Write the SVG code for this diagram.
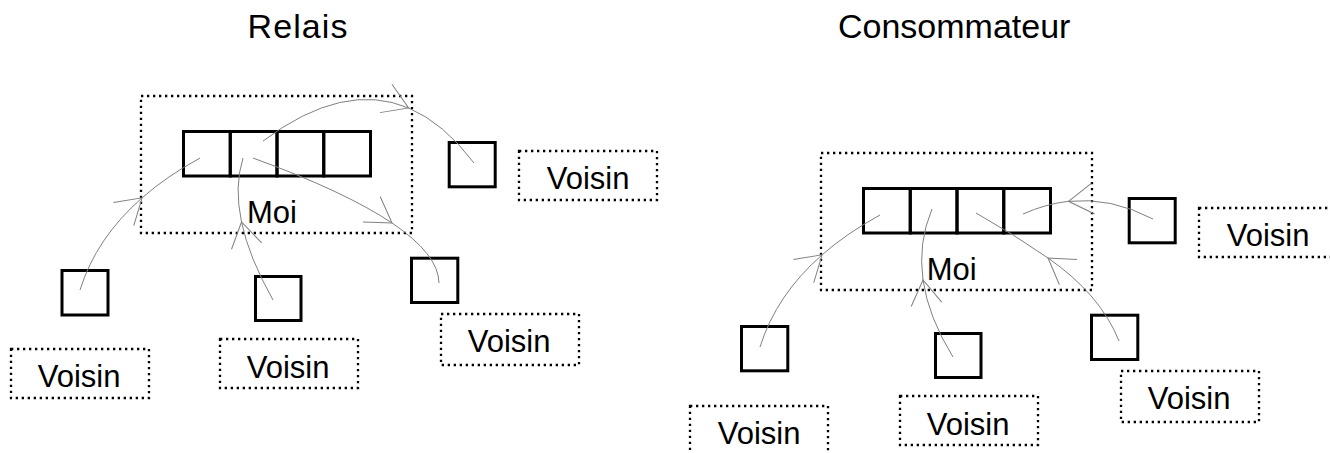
<svg xmlns="http://www.w3.org/2000/svg" width="1330" height="453" viewBox="0 0 1330 453">
<style>
  .bg { fill: #ffffff; }
  .title { font-family: "Liberation Sans", Arial, sans-serif; font-size: 34px; fill: #000; }
  .lbl { font-family: "Liberation Sans", Arial, sans-serif; font-size: 31px; fill: #000; }
  .dot { fill: none; stroke: #000; stroke-width: 2.3; stroke-dasharray: 2.3 3.7; }
  .box { fill: none; stroke: #000; stroke-width: 3; }
  .conn { fill: none; stroke: #808080; stroke-width: 1; marker-mid: url(#arr); }
</style>
<defs>
  <marker id="arr" markerUnits="userSpaceOnUse" orient="auto" markerWidth="40" markerHeight="40" refX="0" refY="0" overflow="visible">
    <path d="M-24.6,-15.4 L0,0 L-24.6,15.4" fill="none" stroke="#808080" stroke-width="1"/>
  </marker>
</defs>
<rect class="bg" x="0" y="0" width="1330" height="453"/>

<!-- ===== Relais ===== -->
<g id="relais-title">
  <text class="title" x="247.5" y="38" textLength="100" lengthAdjust="spacing">Relais</text>
</g>
<g id="relais-moi">
  <rect class="dot" x="141" y="96" width="271" height="137"/>
  <rect class="box" x="183.5" y="131.5" width="46.75" height="44.5"/>
  <rect class="box" x="230.25" y="131.5" width="46.75" height="44.5"/>
  <rect class="box" x="277" y="131.5" width="46.75" height="44.5"/>
  <rect class="box" x="323.75" y="131.5" width="46.75" height="44.5"/>
  <text class="lbl" x="247" y="223.3">Moi</text>
</g>
<g id="relais-voisin-1">
  <rect class="box" x="62" y="270.5" width="46" height="44.5"/>
  <rect class="dot" x="11" y="349" width="138" height="49"/>
  <text class="lbl" x="37.7" y="386.7">Voisin</text>
</g>
<g id="relais-voisin-2">
  <rect class="box" x="255.5" y="276.5" width="45.5" height="44"/>
  <rect class="dot" x="220" y="339" width="138" height="49"/>
  <text class="lbl" x="246.7" y="377.7">Voisin</text>
</g>
<g id="relais-voisin-3">
  <rect class="box" x="411.5" y="258.2" width="46.3" height="44.3"/>
  <rect class="dot" x="441" y="314" width="138" height="51"/>
  <text class="lbl" x="467.7" y="352.3">Voisin</text>
</g>
<g id="relais-voisin-4">
  <rect class="box" x="449.2" y="142.5" width="46" height="44.3"/>
  <rect class="dot" x="519" y="151" width="138" height="49"/>
  <text class="lbl" x="546.7" y="189">Voisin</text>
</g>

<!-- ===== Consommateur ===== -->
<g id="consommateur-title">
  <text class="title" x="838" y="38">Consommateur</text>
</g>
<g id="consommateur-moi">
  <rect class="dot" x="821" y="153" width="271" height="137"/>
  <rect class="box" x="863.5" y="188.5" width="46.75" height="44.5"/>
  <rect class="box" x="910.25" y="188.5" width="46.75" height="44.5"/>
  <rect class="box" x="957" y="188.5" width="46.75" height="44.5"/>
  <rect class="box" x="1003.75" y="188.5" width="46.75" height="44.5"/>
  <text class="lbl" x="926.7" y="279.5">Moi</text>
</g>
<g id="consommateur-voisin-1">
  <rect class="box" x="741.5" y="326.5" width="46.3" height="44.3"/>
  <rect class="dot" x="690" y="406" width="138" height="49"/>
  <text class="lbl" x="717.7" y="443.7">Voisin</text>
</g>
<g id="consommateur-voisin-2">
  <rect class="box" x="935.5" y="333.5" width="45.5" height="44"/>
  <rect class="dot" x="900" y="396" width="138" height="49"/>
  <text class="lbl" x="926.7" y="434.7">Voisin</text>
</g>
<g id="consommateur-voisin-3">
  <rect class="box" x="1091.5" y="315.2" width="46.3" height="44.3"/>
  <rect class="dot" x="1121" y="371" width="138" height="51"/>
  <text class="lbl" x="1147.7" y="409.3">Voisin</text>
</g>
<g id="consommateur-voisin-4">
  <rect class="box" x="1129.2" y="198.5" width="46" height="44.3"/>
  <rect class="dot" x="1199" y="208" width="138" height="49"/>
  <text class="lbl" x="1226.7" y="246">Voisin</text>
</g>

<!-- ===== Connectors ===== -->
<g id="connectors">
  <!-- Relais -->
  <path class="conn" d="M80,290 Q96.25,238 142.1,197.8 Q166.75,176.2 200,158"/>
  <path class="conn" d="M273,300 Q249,257.5 241.5,222 Q234,186.5 243,158"/>
  <path class="conn" d="M253,158 Q345.5,191.75 392,223 Q438.5,254.25 439,283"/>
  <path class="conn" d="M263,141 Q343.6,80.55 408.6,108 Q443.55,122.75 474,163"/>
  <!-- Consommateur -->
  <path class="conn" d="M760,347 Q776.25,295 822.1,254.8 Q846.75,233.2 880,215"/>
  <path class="conn" d="M953,357 Q928.25,317 923,280 Q917.75,243 932,209"/>
  <path class="conn" d="M1119,341 Q1100.5,294.5 1048,258 Q1015,235 976,213"/>
  <path class="conn" d="M1153,219 Q1110.75,196.9 1068.5,201.3 Q1045.75,203.85 1023,214"/>
</g>
</svg>
